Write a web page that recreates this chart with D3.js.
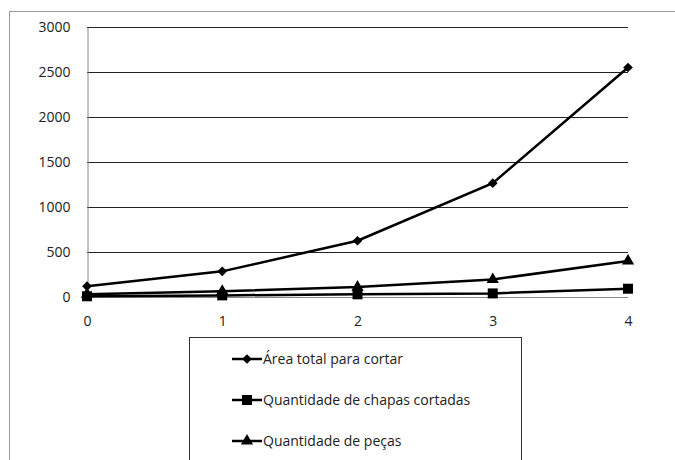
<!DOCTYPE html>
<html>
<head>
<meta charset="utf-8">
<script src="https://cdn.jsdelivr.net/npm/d3@7"></script>
<style>
  body { margin: 0; background: #fff; }
  text { font-family: "Open Sans", sans-serif; }
</style>
</head>
<body>
<div id="chart"></div>
<script>
// Chart data
const categories = [0, 1, 2, 3, 4];
const areaTotal = [120, 285, 625, 1265, 2550];
const chapasCortadas = [8, 18, 30, 40, 92];
const pecas = [30, 63, 110, 195, 400];
const yTicks = [0, 500, 1000, 1500, 2000, 2500, 3000];
const seriesNames = ["Área total para cortar", "Quantidade de chapas cortadas", "Quantidade de peças"];
const seriesMarkers = ["diamond", "square", "triangle"];

const WIDTH = 675;
const HEIGHT = 460;
const FONT_SIZE = 14;

let svg = d3.select("#chart")
            .append("svg")
            .attr("width", WIDTH)
            .attr("height", HEIGHT);

// Outer chart border (runs off the right and bottom)
svg.append("rect")
    .attr("x", 9.5)
    .attr("y", 11.5)
    .attr("width", 700)
    .attr("height", 500)
    .attr("fill", "#fff")
    .attr("stroke", "#999")
    .attr("stroke-width", 1);

// Scales
let x = d3.scaleLinear().domain([0, 4]).range([87, 628]);
let y = d3.scaleLinear().domain([0, 3000]).range([297, 27]);

// Gridlines
svg.append("g")
    .selectAll("line")
    .data(yTicks)
    .join("line")
    .attr("x1", x(0))
    .attr("x2", x(4))
    .attr("y1", d => Math.round(y(d)) + 0.5)
    .attr("y2", d => Math.round(y(d)) + 0.5)
    .attr("stroke", d => d === 0 ? "#888" : "#222")
    .attr("stroke-width", 1);

// Y axis
let yAxis = d3.axisLeft(y).tickValues(yTicks).tickFormat(d3.format("d")).tickSize(0).tickPadding(17);
let gy = svg.append("g")
    .attr("transform", `translate(${x(0) + 0.5},0)`)
    .call(yAxis);
gy.select(".domain").attr("stroke", "#888");
gy.selectAll("text").attr("font-size", FONT_SIZE).attr("fill", "#222").attr("font-family", "Open Sans, sans-serif");

// X axis
let xAxis = d3.axisBottom(x).tickValues(categories).tickFormat(d3.format("d")).tickSize(0).tickPadding(19);
let gx = svg.append("g")
    .attr("transform", `translate(0,${Math.round(y(0)) + 0.5})`)
    .call(xAxis);
gx.select(".domain").remove();
gx.selectAll("text").attr("font-size", FONT_SIZE).attr("fill", "#222").attr("font-family", "Open Sans, sans-serif");

// Markers
const symbols = {
    diamond: d3.symbol().type(d3.symbolDiamond2).size(60),
    square: d3.symbol().type(d3.symbolSquare).size(100),
    triangle: d3.symbol().type(d3.symbolTriangle).size(65)
};

let line = d3.line()
    .x((d, i) => x(categories[i]))
    .y(d => y(d));

// Draw order: peças, chapas, área
const allSeries = [areaTotal, chapasCortadas, pecas];
[2, 1, 0].forEach(k => {
    let g = svg.append("g");
    g.append("path")
        .datum(allSeries[k])
        .attr("fill", "none")
        .attr("stroke", "#000")
        .attr("stroke-width", 2.5)
        .attr("d", line);
    g.selectAll("path.mk")
        .data(allSeries[k])
        .join("path")
        .attr("class", "mk")
        .attr("transform", (d, i) => `translate(${x(categories[i])},${y(d)})`)
        .attr("d", symbols[seriesMarkers[k]])
        .attr("fill", "#000");
});

// Legend
let legend = svg.append("g");
legend.append("rect")
    .attr("x", 189.5)
    .attr("y", 337.5)
    .attr("width", 332)
    .attr("height", 140)
    .attr("fill", "#fff")
    .attr("stroke", "#333")
    .attr("stroke-width", 1);

const legendY = [359, 400, 441];
seriesNames.forEach((name, k) => {
    let row = legend.append("g").attr("transform", `translate(0,${legendY[k]})`);
    row.append("line")
        .attr("x1", 232).attr("x2", 262)
        .attr("y1", 0).attr("y2", 0)
        .attr("stroke", "#000")
        .attr("stroke-width", 2.5);
    row.append("path")
        .attr("transform", "translate(247,0)")
        .attr("d", symbols[seriesMarkers[k]])
        .attr("fill", "#000");
    row.append("text")
        .attr("x", 263)
        .attr("y", 0)
        .attr("dy", "0.35em")
        .attr("font-size", FONT_SIZE)
        .attr("fill", "#222")
        .text(name);
});
</script>
</body>
</html>
